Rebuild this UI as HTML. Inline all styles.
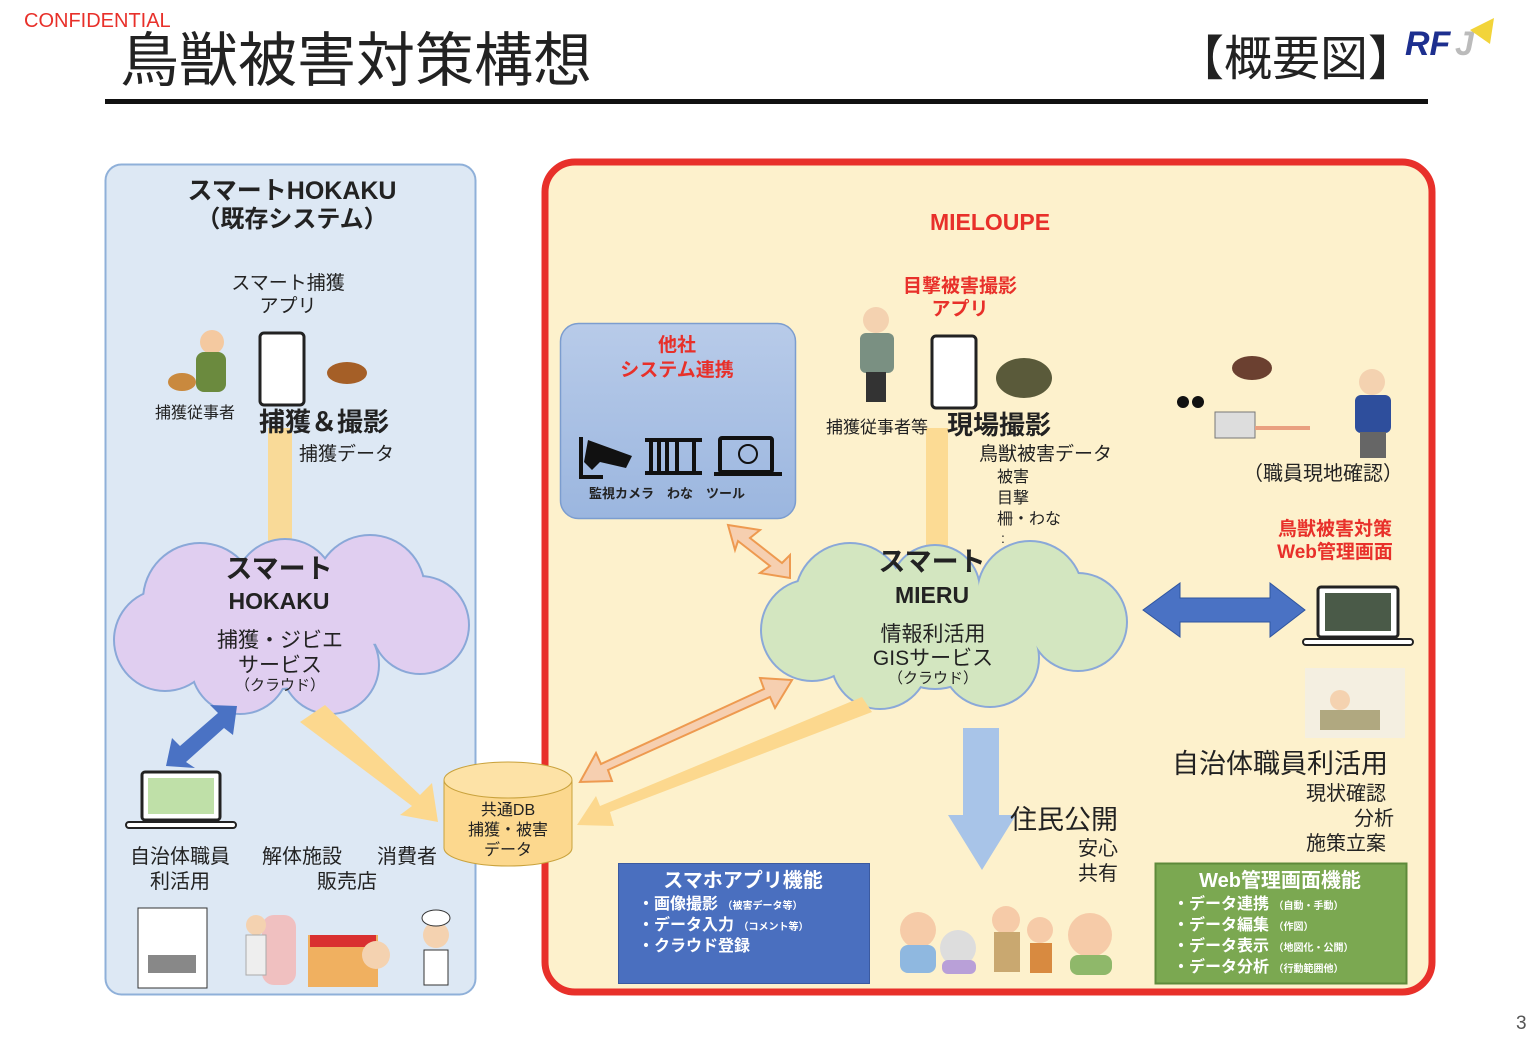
<!DOCTYPE html>
<html><head><meta charset="utf-8"><style>
body{margin:0;background:#fff;}
#c{position:relative;width:1538px;height:1060px;overflow:hidden;font-family:"Liberation Sans","Noto Sans CJK JP",sans-serif;color:#222;}
.t{position:absolute;white-space:nowrap;line-height:1;}
.b{font-weight:bold;}
.ctr{transform:translateX(-50%);text-align:center;}
.r{color:#e8302a;}
</style></head><body><div id="c">
<svg width="1538" height="1060" style="position:absolute;left:0;top:0">
<defs>
<linearGradient id="gb" x1="0" y1="0" x2="0" y2="1"><stop offset="0" stop-color="#b8cbe9"/><stop offset="1" stop-color="#9bb6df"/></linearGradient>
</defs>
<rect x="105" y="99" width="1323" height="5" fill="#111"/>
<text x="1405" y="55" font-family="Liberation Sans" font-weight="bold" font-style="italic" font-size="34" fill="#1d2f8f">RF</text>
<text x="1455" y="55" font-family="Liberation Sans" font-weight="bold" font-style="italic" font-size="34" fill="#bbb">J</text>
<polygon points="1470,30 1494,18 1490,44" fill="#f2d43a"/>
<rect x="105.5" y="164.5" width="370" height="830" rx="16" fill="#dde8f4" stroke="#8fb0d9" stroke-width="2"/>
<rect x="545" y="162" width="887" height="830" rx="30" fill="#fdf1cc" stroke="#e8302a" stroke-width="7"/>
<rect x="560.5" y="323.5" width="235" height="195" rx="18" fill="url(#gb)" stroke="#7c9dcf" stroke-width="1.5"/>
<g fill="#111">
<rect x="579" y="437" width="4" height="42"/><rect x="579" y="475" width="24" height="4"/>
<polygon points="588,440 632,456 626,468 600,462 592,470 584,462"/>
<rect x="645" y="438" width="57" height="4"/><rect x="645" y="471" width="57" height="4"/>
<rect x="649" y="442" width="4" height="30"/><rect x="657" y="442" width="4" height="30"/><rect x="665" y="442" width="4" height="30"/><rect x="675" y="442" width="4" height="30"/><rect x="692" y="442" width="4" height="30"/>
<rect x="720" y="438" width="52" height="34" rx="2" fill="none" stroke="#111" stroke-width="4"/>
<rect x="714" y="472" width="68" height="4"/>
<circle cx="748" cy="454" r="9" fill="none" stroke="#111" stroke-width="2"/>
</g>
<rect x="268" y="428" width="24" height="124" fill="#fcd88e" opacity=".9"/>
<rect x="926" y="428" width="22" height="124" fill="#fcd88e" opacity=".9"/>
<g fill="#8aa8d8">
<circle cx="200" cy="600" r="58"/><circle cx="285" cy="590" r="52"/><circle cx="370" cy="590" r="56"/><circle cx="420" cy="625" r="50"/><circle cx="165" cy="640" r="52"/><circle cx="240" cy="665" r="50"/><circle cx="330" cy="665" r="50"/><circle cx="280" cy="630" r="60"/>
</g>
<g fill="#e0cef0">
<circle cx="200" cy="600" r="56"/><circle cx="285" cy="590" r="50"/><circle cx="370" cy="590" r="54"/><circle cx="420" cy="625" r="48"/><circle cx="165" cy="640" r="50"/><circle cx="240" cy="665" r="48"/><circle cx="330" cy="665" r="48"/><circle cx="280" cy="630" r="58"/>
</g>
<g fill="#8aa8d8">
<circle cx="850" cy="598" r="56"/><circle cx="935" cy="590" r="46"/><circle cx="1030" cy="594" r="54"/><circle cx="1078" cy="622" r="50"/><circle cx="812" cy="630" r="52"/><circle cx="880" cy="660" r="50"/><circle cx="990" cy="658" r="50"/><circle cx="935" cy="630" r="60"/>
</g>
<g fill="#d3e6c0">
<circle cx="850" cy="598" r="54"/><circle cx="935" cy="590" r="44"/><circle cx="1030" cy="594" r="52"/><circle cx="1078" cy="622" r="48"/><circle cx="812" cy="630" r="50"/><circle cx="880" cy="660" r="48"/><circle cx="990" cy="658" r="48"/><circle cx="935" cy="630" r="58"/>
</g>
<polygon points="300,722 325,705 420,795 432,783 438,822 400,815 412,806" fill="#fcd88e"/>
<polygon points="237,706 233,735 224,728 186,762 195,768 166,766 172,738 180,746 218,713 210,705" fill="#4a72c4"/>
<polygon points="862,697 872,712 610,812 614,826 577,825 596,796 600,806" fill="#fcd88e"/>
<polygon points="760,678 792,680 775,708 770,697 608,770 612,781 580,782 596,753 601,764 764,689" fill="#f6cfb0" stroke="#ee9a50" stroke-width="2"/>
<polygon points="728,525 760,530 750,538 782,563 790,555 790,578 760,573 770,566 738,541 735,550" fill="#f6cfb0" stroke="#ee9a50" stroke-width="2"/>
<polygon points="1143,610 1180,583 1180,598 1270,598 1270,583 1305,610 1270,637 1270,622 1180,622 1180,637" fill="#4a72c4" stroke="#2f55a0" stroke-width="1"/>
<polygon points="963,728 999,728 999,815 1016,815 982,870 948,815 963,815" fill="#a8c4e8"/>
<path d="M444,780 L444,848 A64,18 0 0 0 572,848 L572,780" fill="#fcd88e" stroke="#c9a23c" stroke-width="1"/>
<ellipse cx="508" cy="780" rx="64" ry="18" fill="#fde2a6" stroke="#c9a23c" stroke-width="1"/>
<rect x="618.5" y="863.5" width="251" height="120" fill="#4a6fbf" stroke="#3b5aa0"/>
<rect x="1155.5" y="863.5" width="251" height="120" fill="#7ba851" stroke="#5e8a3a" stroke-width="2"/>
<rect x="142" y="772" width="78" height="48" rx="3" fill="#fff" stroke="#222" stroke-width="3"/>
<rect x="148" y="778" width="66" height="36" fill="#bfe0a8"/>
<rect x="126" y="822" width="110" height="6" rx="3" fill="#fff" stroke="#222" stroke-width="2"/>
<rect x="1318" y="587" width="80" height="50" rx="3" fill="#fff" stroke="#222" stroke-width="3"/>
<rect x="1325" y="593" width="66" height="38" fill="#4a5a48"/>
<rect x="1303" y="639" width="110" height="6" rx="3" fill="#fff" stroke="#222" stroke-width="2"/>
<rect x="260" y="333" width="44" height="72" rx="4" fill="#fff" stroke="#222" stroke-width="3"/>
<rect x="932" y="336" width="44" height="72" rx="4" fill="#fff" stroke="#222" stroke-width="3"/>
<g>
<circle cx="212" cy="342" r="12" fill="#f4c9a0"/><rect x="196" y="352" width="30" height="40" rx="8" fill="#6b8a3e"/><ellipse cx="182" cy="382" rx="14" ry="9" fill="#c9893e"/>
<ellipse cx="347" cy="373" rx="20" ry="11" fill="#a55f27"/>
<circle cx="876" cy="320" r="13" fill="#f4d2b0"/><rect x="860" y="333" width="34" height="40" rx="6" fill="#7a9082"/><rect x="866" y="372" width="20" height="30" fill="#333"/>
<ellipse cx="1024" cy="378" rx="28" ry="20" fill="#5a5a3a"/>
<circle cx="1372" cy="382" r="13" fill="#f4d2b0"/><rect x="1355" y="395" width="36" height="38" rx="6" fill="#2e4e9c"/><rect x="1360" y="432" width="26" height="26" fill="#666"/>
<ellipse cx="1252" cy="368" rx="20" ry="12" fill="#6b4030"/>
<rect x="1215" y="412" width="40" height="26" fill="#ddd" stroke="#777"/><rect x="1255" y="426" width="55" height="4" fill="#e9a080"/>
<circle cx="1183" cy="402" r="6" fill="#111"/><circle cx="1198" cy="402" r="6" fill="#111"/>
<rect x="1305" y="668" width="100" height="70" fill="#eee" opacity=".6"/><circle cx="1340" cy="700" r="10" fill="#f4d2b0"/><rect x="1320" y="710" width="60" height="20" fill="#b0a880"/>
<rect x="138" y="908" width="69" height="80" fill="#fff" stroke="#333"/><rect x="148" y="955" width="48" height="18" fill="#888"/>
<rect x="262" y="915" width="34" height="70" rx="12" fill="#f0c0c0"/><circle cx="256" cy="925" r="10" fill="#f4d2b0"/><rect x="246" y="935" width="20" height="40" fill="#eee" stroke="#aaa"/>
<rect x="308" y="935" width="70" height="52" fill="#f0b060"/><rect x="310" y="935" width="66" height="12" fill="#d93030"/>
<circle cx="376" cy="955" r="14" fill="#f4d2b0"/><circle cx="436" cy="935" r="13" fill="#f4d2b0"/><ellipse cx="436" cy="918" rx="14" ry="8" fill="#fff" stroke="#333"/><rect x="424" y="950" width="24" height="35" fill="#fff" stroke="#333"/>
<circle cx="918" cy="930" r="18" fill="#f6cba8"/><rect x="900" y="945" width="36" height="28" rx="8" fill="#8fb8e0"/>
<circle cx="958" cy="948" r="18" fill="#ddd"/><rect x="942" y="960" width="34" height="14" rx="6" fill="#b9a0d8"/>
<circle cx="1006" cy="920" r="14" fill="#f6cba8"/><rect x="994" y="932" width="26" height="40" fill="#c9a870"/>
<circle cx="1040" cy="930" r="13" fill="#f6cba8"/><rect x="1030" y="943" width="22" height="30" fill="#d88a40"/>
<circle cx="1090" cy="935" r="22" fill="#f6cba8"/><rect x="1070" y="955" width="42" height="20" rx="8" fill="#8fb86a"/>
</g>
</svg>

<div class="t r" style="left:24px;top:11px;font-size:20px;">CONFIDENTIAL</div>
<div class="t" style="left:120px;top:32px;font-size:59px;">鳥獣被害対策構想</div>
<div class="t" style="left:1176px;top:36px;font-size:48px;">【概要図】</div>

<div class="t b ctr" style="left:292px;top:179px;font-size:25px;">スマートHOKAKU</div>
<div class="t b ctr" style="left:292px;top:208px;font-size:24px;">（既存システム）</div>
<div class="t ctr" style="left:288px;top:274px;font-size:19px;">スマート捕獲</div>
<div class="t ctr" style="left:288px;top:297px;font-size:19px;">アプリ</div>
<div class="t" style="left:155px;top:406px;font-size:16px;">捕獲従事者</div>
<div class="t b" style="left:259px;top:409px;font-size:26px;">捕獲＆撮影</div>
<div class="t" style="left:299px;top:445px;font-size:19px;">捕獲データ</div>
<div class="t b ctr" style="left:279px;top:556px;font-size:27px;">スマート</div>
<div class="t b ctr" style="left:279px;top:590px;font-size:23px;">HOKAKU</div>
<div class="t ctr" style="left:280px;top:630px;font-size:21px;">捕獲・ジビエ</div>
<div class="t ctr" style="left:280px;top:655px;font-size:21px;">サービス</div>
<div class="t ctr" style="left:280px;top:678px;font-size:15px;">（クラウド）</div>
<div class="t ctr" style="left:180px;top:847px;font-size:20px;">自治体職員</div>
<div class="t ctr" style="left:180px;top:872px;font-size:20px;">利活用</div>
<div class="t ctr" style="left:302px;top:847px;font-size:20px;">解体施設</div>
<div class="t ctr" style="left:347px;top:872px;font-size:20px;">販売店</div>
<div class="t ctr" style="left:407px;top:847px;font-size:20px;">消費者</div>
<div class="t ctr" style="left:508px;top:803px;font-size:16px;">共通DB</div>
<div class="t ctr" style="left:508px;top:823px;font-size:16px;">捕獲・被害</div>
<div class="t ctr" style="left:508px;top:843px;font-size:16px;">データ</div>

<div class="t b r ctr" style="left:990px;top:211px;font-size:23px;">MIELOUPE</div>
<div class="t b r ctr" style="left:677px;top:336px;font-size:19px;">他社</div>
<div class="t b r ctr" style="left:677px;top:361px;font-size:19px;">システム連携</div>
<div class="t b" style="left:589px;top:487px;font-size:13px;">監視カメラ　わな　ツール</div>
<div class="t b r ctr" style="left:960px;top:277px;font-size:19px;">目撃被害撮影</div>
<div class="t b r ctr" style="left:960px;top:300px;font-size:19px;">アプリ</div>
<div class="t" style="left:826px;top:419px;font-size:17px;">捕獲従事者等</div>
<div class="t b" style="left:947px;top:412px;font-size:26px;">現場撮影</div>
<div class="t" style="left:979px;top:445px;font-size:19px;">鳥獣被害データ</div>
<div class="t" style="left:997px;top:470px;font-size:16px;">被害</div>
<div class="t" style="left:997px;top:491px;font-size:16px;">目撃</div>
<div class="t" style="left:997px;top:512px;font-size:16px;">柵・わな</div>
<div class="t" style="left:1001px;top:531px;font-size:14px;">:</div>
<div class="t" style="left:1243px;top:464px;font-size:20px;">（職員現地確認）</div>
<div class="t b r ctr" style="left:1335px;top:520px;font-size:19px;">鳥獣被害対策</div>
<div class="t b r ctr" style="left:1335px;top:543px;font-size:19px;">Web管理画面</div>
<div class="t b ctr" style="left:932px;top:549px;font-size:27px;">スマート</div>
<div class="t b ctr" style="left:932px;top:584px;font-size:23px;">MIERU</div>
<div class="t ctr" style="left:933px;top:624px;font-size:21px;">情報利活用</div>
<div class="t ctr" style="left:933px;top:648px;font-size:21px;">GISサービス</div>
<div class="t ctr" style="left:933px;top:671px;font-size:15px;">（クラウド）</div>
<div class="t" style="left:1172px;top:751px;font-size:27px;">自治体職員利活用</div>
<div class="t" style="left:1306px;top:784px;font-size:20px;">現状確認</div>
<div class="t" style="left:1354px;top:809px;font-size:20px;">分析</div>
<div class="t" style="left:1306px;top:834px;font-size:20px;">施策立案</div>
<div class="t" style="left:1010px;top:807px;font-size:27px;">住民公開</div>
<div class="t" style="left:1078px;top:839px;font-size:20px;">安心</div>
<div class="t" style="left:1078px;top:864px;font-size:20px;">共有</div>

<div class="t b ctr" style="left:743px;top:871px;font-size:20px;color:#fff;">スマホアプリ機能</div>
<div class="t b" style="left:638px;top:897px;font-size:16px;color:#fff;">・画像撮影 <span style="font-size:10px">（被害データ等）</span></div>
<div class="t b" style="left:638px;top:918px;font-size:16px;color:#fff;">・データ入力 <span style="font-size:10px">（コメント等）</span></div>
<div class="t b" style="left:638px;top:939px;font-size:16px;color:#fff;">・クラウド登録</div>
<div class="t b ctr" style="left:1280px;top:871px;font-size:20px;color:#fff;">Web管理画面機能</div>
<div class="t b" style="left:1173px;top:897px;font-size:16px;color:#fff;">・データ連携 <span style="font-size:10px">（自動・手動）</span></div>
<div class="t b" style="left:1173px;top:918px;font-size:16px;color:#fff;">・データ編集 <span style="font-size:10px">（作図）</span></div>
<div class="t b" style="left:1173px;top:939px;font-size:16px;color:#fff;">・データ表示 <span style="font-size:10px">（地図化・公開）</span></div>
<div class="t b" style="left:1173px;top:960px;font-size:16px;color:#fff;">・データ分析 <span style="font-size:10px">（行動範囲他）</span></div>
<div class="t" style="left:1516px;top:1014px;font-size:19px;color:#555;">3</div>
</div></body></html>
